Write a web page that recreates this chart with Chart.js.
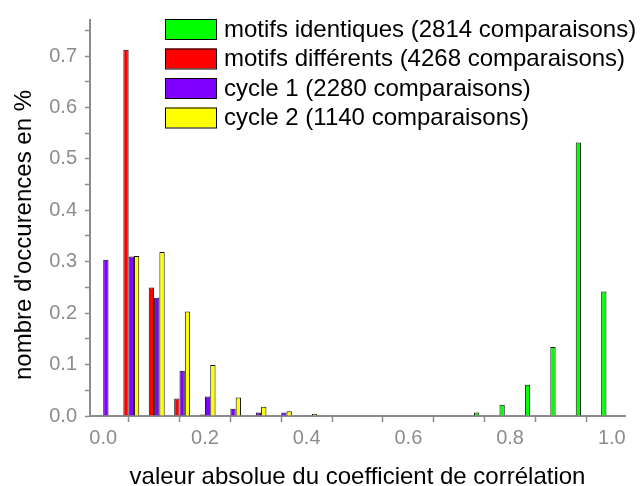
<!DOCTYPE html>
<html>
<head>
<meta charset="utf-8">
<script src="https://cdn.jsdelivr.net/npm/chart.js@4/dist/chart.umd.min.js"></script>
<style>
  html, body { margin: 0; padding: 0; background: #fff; }
  #wrap { width: 640px; height: 486px; position: relative; }
</style>
</head>
<body>
<div id="wrap"><canvas id="histo"></canvas></div>
<script>
// bin positions of |r| (step 0.05)
const bins = [0, 0.05, 0.1, 0.15, 0.2, 0.25, 0.3, 0.35, 0.4, 0.45, 0.5,
              0.55, 0.6, 0.65, 0.7, 0.75, 0.8, 0.85, 0.9, 0.95, 1.0];

// share of comparisons per bin (null = empty bin)
const identiques = [null, null, null, null, null, null, null, null, null, null, null,
                    null, null, null, null, 0.007, 0.022, 0.061, 0.134, 0.532, 0.242];
const differents = [null, 0.712, 0.250, 0.034, 0.003, null, null, null, null, null, null,
                    null, null, null, null, null, null, null, null, null, null];
const cycle1     = [0.304, 0.310, 0.230, 0.088, 0.038, 0.014, 0.007, 0.007, 0.0015, null, null,
                    null, null, null, null, null, null, null, null, null, null];
const cycle2     = [null, 0.311, 0.319, 0.203, 0.099, 0.036, 0.018, 0.009, 0.004, null, null,
                    null, null, null, null, null, null, null, null, null, null];

const seriesNames = [
  'motifs identiques (2814 comparaisons)',
  'motifs différents (4268 comparaisons)',
  'cycle 1 (2280 comparaisons)',
  'cycle 2 (1140 comparaisons)'
];
const seriesColors = ['#00ff00', '#ff0000', '#8000ff', '#ffff00'];

const xTitle = 'valeur absolue du coefficient de corrélation';
const yTitle = "nombre d'occurences en %";

const FONT = '"Liberation Sans", Arial, sans-serif';
const GREY = '#8c8c8c';

function toPoints(vals) {
  const pts = [];
  vals.forEach((v, i) => { if (v !== null) pts.push({ x: bins[i], y: v }); });
  return pts;
}

// legend boxes in the upper right + both axis titles
const decorations = {
  id: 'decorations',
  afterDraw(chart) {
    const ctx = chart.ctx;
    const area = chart.chartArea;
    ctx.save();
    ctx.font = '24px ' + FONT;
    ctx.textBaseline = 'middle';
    chart.data.datasets.forEach((ds, i) => {
      const y = 19 + i * 29.5;
      ctx.fillStyle = ds.backgroundColor;
      ctx.fillRect(165, y, 51, 20);
      ctx.strokeStyle = '#000';
      ctx.lineWidth = 1;
      ctx.strokeRect(165.5, y + 0.5, 51, 20);
      ctx.fillStyle = '#000';
      ctx.textAlign = 'left';
      ctx.fillText(ds.label, 224, y + 11);
    });

    ctx.textAlign = 'center';
    ctx.fillText(xTitle, (area.left + area.right) / 2, 477);

    ctx.translate(24, 235);
    ctx.rotate(-Math.PI / 2);
    ctx.fillText(yTitle, 0, 0);
    ctx.restore();
  }
};

new Chart(document.getElementById('histo'), {
  type: 'bar',
  data: {
    datasets: [identiques, differents, cycle1, cycle2].map((vals, i) => ({
      label: seriesNames[i],
      data: toPoints(vals),
      backgroundColor: seriesColors[i],
      borderColor: '#111',
      borderWidth: 1,
      borderSkipped: 'bottom',
      categoryPercentage: 0.835,
      barPercentage: 1
    }))
  },
  options: {
    responsive: true,
    maintainAspectRatio: false,
    animation: false,
    layout: { padding: { top: 18, right: 15, left: 0, bottom: 0 } },
    plugins: { legend: { display: false }, tooltip: { enabled: false } },
    scales: {
      x: {
        type: 'linear',
        offset: false,
        min: -0.026,
        max: 1.026,
        afterFit(scale) { scale.height = 70; },
        border: { display: true, color: GREY, width: 2 },
        grid: { drawOnChartArea: false, drawTicks: true, tickLength: 6, tickColor: GREY, tickWidth: 1.5 },
        ticks: {
          stepSize: 0.1,
          includeBounds: false,
          padding: 4,
          color: GREY,
          font: { family: FONT, size: 20 },
          maxRotation: 0,
          autoSkip: false,
          callback: v => (Math.round(v * 10) % 2 === 0 ? v.toFixed(1) : '')
        }
      },
      y: {
        min: 0,
        max: 0.77,
        afterFit(scale) { scale.width = 90; },
        border: { display: true, color: GREY, width: 2 },
        grid: { drawOnChartArea: false, drawTicks: true, tickLength: 5, tickColor: GREY, tickWidth: 1.5 },
        ticks: {
          stepSize: 0.05,
          includeBounds: false,
          padding: 8,
          color: GREY,
          font: { family: FONT, size: 20 },
          autoSkip: false,
          callback: v => (Math.round(v * 20) % 2 === 0 ? v.toFixed(1) : '')
        }
      }
    }
  },
  plugins: [decorations]
});
</script>
</body>
</html>
